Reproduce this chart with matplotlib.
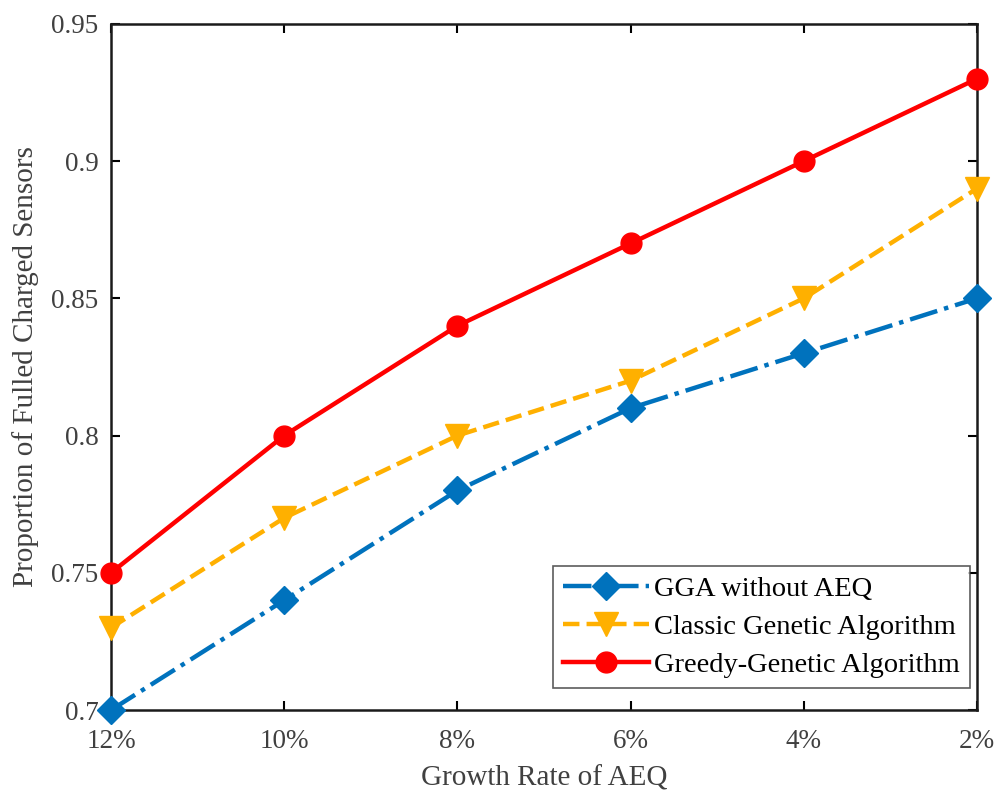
import matplotlib.pyplot as plt

rates = ['12%', '10%', '8%', '6%', '4%', '2%']
gga_no_aeq = [0.70, 0.74, 0.78, 0.81, 0.83, 0.85]
classic_ga = [0.73, 0.77, 0.80, 0.82, 0.85, 0.89]
greedy_ga = [0.75, 0.80, 0.84, 0.87, 0.90, 0.93]

plt.rcParams['font.family'] = ['Liberation Serif', 'DejaVu Serif']

fig = plt.figure(figsize=(10, 7.96), dpi=100)
ax = fig.add_axes([0.111, 0.108, 0.866, 0.862])

x = range(len(rates))
ax.plot(x, gga_no_aeq, color='#0072BD', linestyle='-.', linewidth=3.2,
        marker='D', markersize=14, label='GGA without AEQ', clip_on=False, zorder=3)
ax.plot(x, classic_ga, color='#FFB000', linestyle='--', linewidth=3.2,
        marker='v', markersize=17, label='Classic Genetic Algorithm', clip_on=False, zorder=3)
ax.plot(x, greedy_ga, color='#FF0000', linestyle='-', linewidth=3.2,
        marker='o', markersize=15, label='Greedy-Genetic Algorithm', clip_on=False, zorder=4)

ax.set_xlim(0, len(rates) - 1)
ax.set_ylim(0.7, 0.95)
ax.set_xticks(list(x))
ax.set_xticklabels(rates)
ax.set_yticks([0.7, 0.75, 0.8, 0.85, 0.9, 0.95])
ax.set_yticklabels(['0.7', '0.75', '0.8', '0.85', '0.9', '0.95'])

grey = '#404040'
ax.tick_params(direction='in', length=6.5, width=1.5, labelsize=19.5, labelcolor=grey,
               top=True, right=True)
ax.tick_params(axis='x', pad=14)
ax.tick_params(axis='y', pad=9)
for s in ax.spines.values():
    s.set_linewidth(1.8)
    s.set_color('#1a1a1a')

ax.set_xlabel('Growth Rate of AEQ', fontsize=21, color=grey, labelpad=8)
ax.set_ylabel('Proportion of Fulled Charged Sensors', fontsize=21, color=grey, labelpad=9)

leg = ax.legend(loc='lower right', bbox_to_anchor=(0.992, 0.032), fontsize=20.5,
                frameon=True, fancybox=False, edgecolor='#333333', handlelength=3.0,
                borderaxespad=0, labelspacing=0.42, handletextpad=0.2, borderpad=0.35)
leg.get_frame().set_linewidth(1.2)

plt.savefig('out.png', dpi=100)
plt.close()
